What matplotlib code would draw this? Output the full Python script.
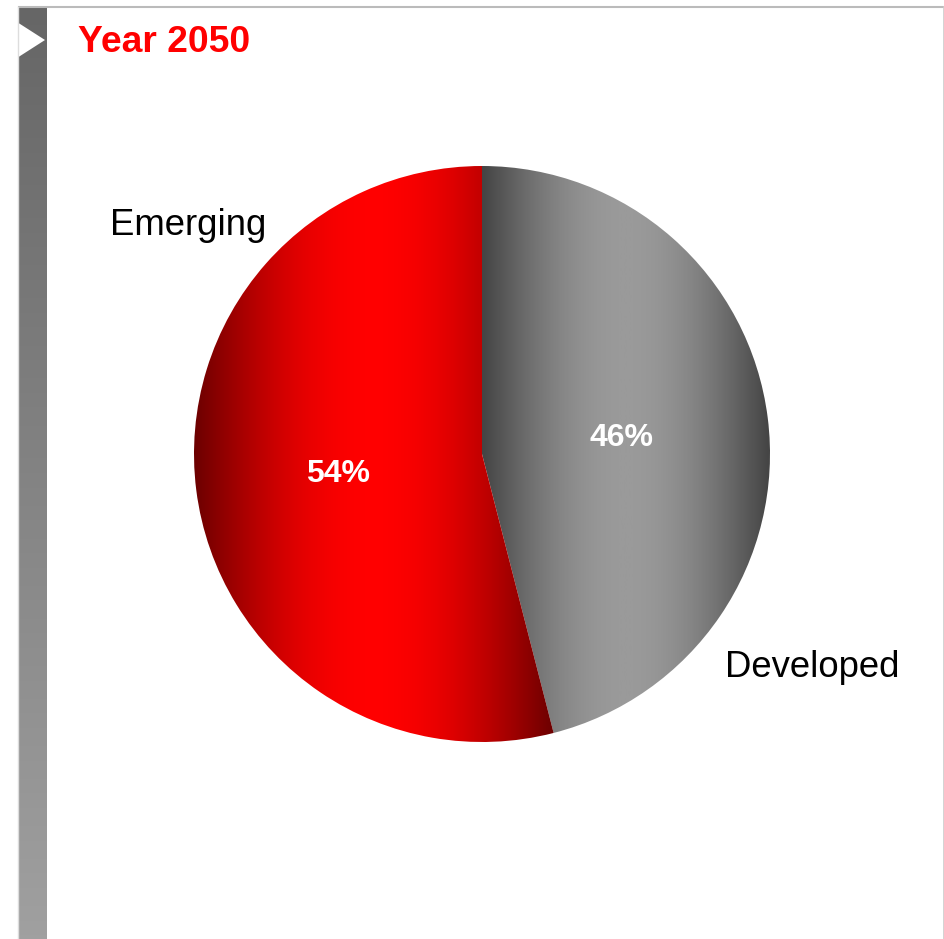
import numpy as np
import matplotlib.pyplot as plt
from matplotlib.colors import LinearSegmentedColormap
from matplotlib.patches import Polygon

plt.rcParams['font.family'] = ['Liberation Sans', 'DejaVu Sans']

# data
categories = ['Developed', 'Emerging']
shares = [46, 54]
title = 'Year 2050'

# gradient colours per slice (edge -> middle)
slice_grads = [['#444444', '#9a9a9a'],
               ['#6c0000', '#ff0000']]
label_pos = [(1.146, -0.740), (-1.021, 0.795)]
pct_pos = [(0.486, 0.056), (-0.50, -0.069)]

W, H = 945, 939
fig = plt.figure(figsize=(W / 100, H / 100), dpi=100)

# background / frame in pixel coords
bg = fig.add_axes([0, 0, 1, 1])
bg.set_xlim(0, W)
bg.set_ylim(H, 0)
bg.axis('off')
bar = np.linspace(0, 1, 256).reshape(-1, 1)
bar_cmap = LinearSegmentedColormap.from_list('bar', ['#666666', '#a0a0a0'])
bg.imshow(bar, cmap=bar_cmap, extent=[19, 47, H, 7], aspect='auto', zorder=1)
bg.add_patch(Polygon([(18.5, 23), (45, 40), (18.5, 57)], closed=True,
                     facecolor='white', edgecolor='none', zorder=2))
bg.plot([19, W], [6.5, 6.5], color='#bbbbbb', lw=1.5, zorder=3)
bg.plot([W - 1, W - 1], [6.5, H], color='#cccccc', lw=1.2, zorder=3)
bg.plot([18, 18], [7, H], color='#dddddd', lw=1, zorder=3)
bg.text(78, 42, title, color='#ff0000', fontsize=26.8, fontweight='bold',
        ha='left', va='center')

# pie
cx, cy, r = 482, 454, 288
ax = fig.add_axes([(cx - r) / W, (H - cy - r) / H, 2 * r / W, 2 * r / H])
wedges, texts, autotexts = ax.pie(shares, labels=categories, startangle=90,
                                  counterclock=False, autopct='%.0f%%',
                                  wedgeprops=dict(linewidth=0))

# dark edges, light middle for each slice
t = np.linspace(0, 1, 512)
grad = np.sin(np.pi * t).reshape(1, -1)
for w, cols in zip(wedges, slice_grads):
    w.set_facecolor('none')
    th = np.radians(np.linspace(w.theta1, w.theta2, 400))
    xs = np.concatenate([np.cos(th), [0]])
    x0, x1 = xs.min(), xs.max()
    cmap = LinearSegmentedColormap.from_list('g', cols)
    im = ax.imshow(grad, cmap=cmap, extent=[x0, x1, -1, 1], aspect='auto',
                   zorder=0)
    im.set_clip_path(w)
ax.set_xlim(-1, 1)
ax.set_ylim(-1, 1)
ax.set_aspect('equal')
ax.axis('off')

for tx, p in zip(texts, label_pos):
    tx.set_position(p)
    tx.set_ha('center')
    tx.set_va('center')
    tx.set_fontsize(26.3)
    tx.set_color('black')
for tx, p in zip(autotexts, pct_pos):
    tx.set_position(p)
    tx.set_ha('center')
    tx.set_va('center')
    tx.set_fontsize(23)
    tx.set_fontweight('bold')
    tx.set_color('white')

fig.savefig('out.png', dpi=100)
